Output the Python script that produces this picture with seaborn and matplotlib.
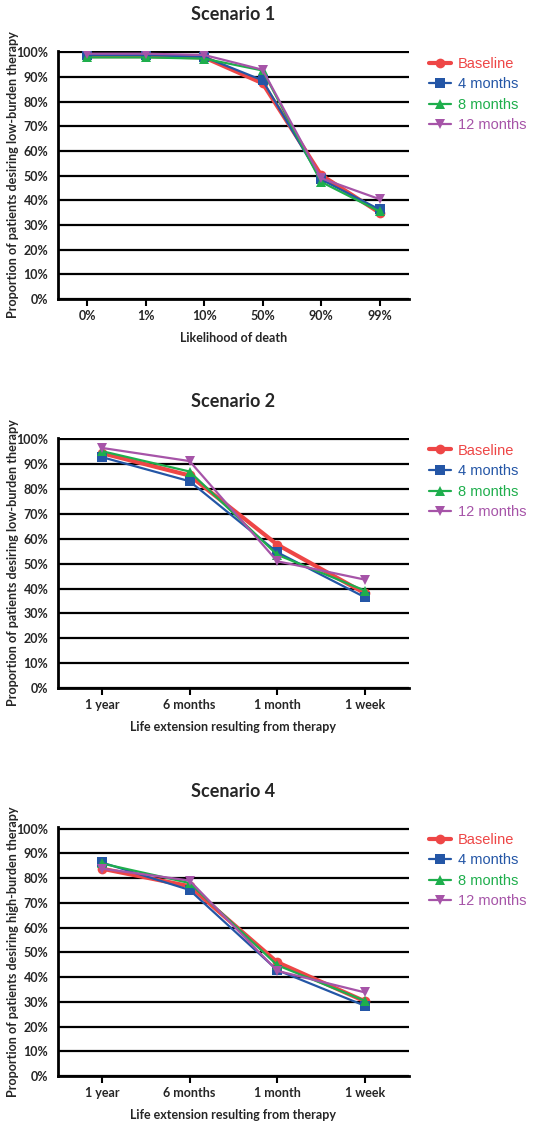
import matplotlib
matplotlib.use('Agg')
import matplotlib.pyplot as plt
import seaborn as sns
import pandas as pd
from matplotlib.ticker import PercentFormatter

sns.set_theme(style='white')
plt.rcParams['font.family'] = ['Lato', 'DejaVu Sans']

# Data
series_names = ['Baseline', '4 months', '8 months', '12 months']
series_colors = ['#EE4646', '#2456A6', '#1EAE4C', '#A654A8']
series_markers = ['o', 's', '^', 'v']
series_widths = [3.0, 1.6, 1.6, 1.6]

s1_categories = ['0%', '1%', '10%', '50%', '90%', '99%']
s1_baseline = [98.5, 98.5, 98.0, 87.5, 50.3, 35.0]
s1_4months = [99.0, 99.0, 98.2, 88.7, 48.5, 36.3]
s1_8months = [98.0, 98.0, 97.5, 92.7, 47.5, 35.5]
s1_12months = [99.5, 99.5, 99.0, 93.0, 49.0, 40.5]

s2_categories = ['1 year', '6 months', '1 month', '1 week']
s2_baseline = [94.5, 85.5, 57.7, 38.1]
s2_4months = [92.9, 83.2, 54.6, 36.5]
s2_8months = [95.3, 87.1, 53.6, 39.2]
s2_12months = [96.6, 91.3, 51.0, 43.6]

s4_categories = ['1 year', '6 months', '1 month', '1 week']
s4_baseline = [83.8, 76.7, 46.0, 30.2]
s4_4months = [86.3, 75.2, 42.8, 28.4]
s4_8months = [85.9, 78.0, 44.8, 30.4]
s4_12months = [83.8, 79.0, 42.5, 33.8]

panels = [
    ('Scenario 1', s1_categories, [s1_baseline, s1_4months, s1_8months, s1_12months],
     'Likelihood of death', 'Proportion of patients desiring low-burden therapy'),
    ('Scenario 2', s2_categories, [s2_baseline, s2_4months, s2_8months, s2_12months],
     'Life extension resulting from therapy', 'Proportion of patients desiring low-burden therapy'),
    ('Scenario 4', s4_categories, [s4_baseline, s4_4months, s4_8months, s4_12months],
     'Life extension resulting from therapy', 'Proportion of patients desiring high-burden therapy'),
]

fig = plt.figure(figsize=(5.55, 11.21), dpi=100)
axes_boxes = [
    [0.1045, 0.7333, 0.632, 0.2212],
    [0.1045, 0.3863, 0.632, 0.2230],
    [0.1045, 0.0401, 0.632, 0.2221],
]

for box, (title, cats, values, xlabel, ylabel) in zip(axes_boxes, panels):
    ax = fig.add_axes(box)
    for name, vals, col, mk, lw in zip(series_names, values, series_colors, series_markers, series_widths):
        df = pd.DataFrame({'cat': cats, 'val': vals})
        sns.lineplot(data=df, x='cat', y='val', ax=ax, color=col, marker=mk,
                     markersize=7, markeredgewidth=0, linewidth=lw, label=name, zorder=3)
    ax.set_ylim(0, 100.6)
    ax.set_xlim(-0.5, len(cats) - 0.5)
    ax.set_yticks(range(0, 101, 10))
    ax.yaxis.set_major_formatter(PercentFormatter(decimals=0))
    ax.grid(axis='y', color='black', linewidth=1.6)
    ax.grid(axis='x', visible=False)
    for side in ['top', 'right']:
        ax.spines[side].set_visible(False)
    for side in ['left', 'bottom']:
        ax.spines[side].set_color('black')
        ax.spines[side].set_linewidth(2)
    ax.tick_params(axis='x', bottom=True, length=5, width=1.5, color='black', labelsize=9, pad=3)
    ax.tick_params(axis='y', left=False, labelsize=9, pad=1)
    for lab in ax.get_xticklabels() + ax.get_yticklabels():
        lab.set_fontweight('bold')
    ax.set_title(title, fontsize=13, fontweight='bold', pad=22)
    ax.set_xlabel(xlabel, fontsize=9, fontweight='bold', labelpad=7)
    ax.set_ylabel(ylabel, fontsize=9.1, fontweight='bold')
    ax.yaxis.set_label_coords(-0.112, 0.5)
    leg = ax.legend(loc='upper left', bbox_to_anchor=(1.02, 1.03), frameon=False,
                    labelcolor='linecolor', handlelength=1.5, handletextpad=0.5,
                    labelspacing=0.45, prop={'family': 'Liberation Sans', 'size': 10.5})

fig.savefig('out.png', dpi=100)
